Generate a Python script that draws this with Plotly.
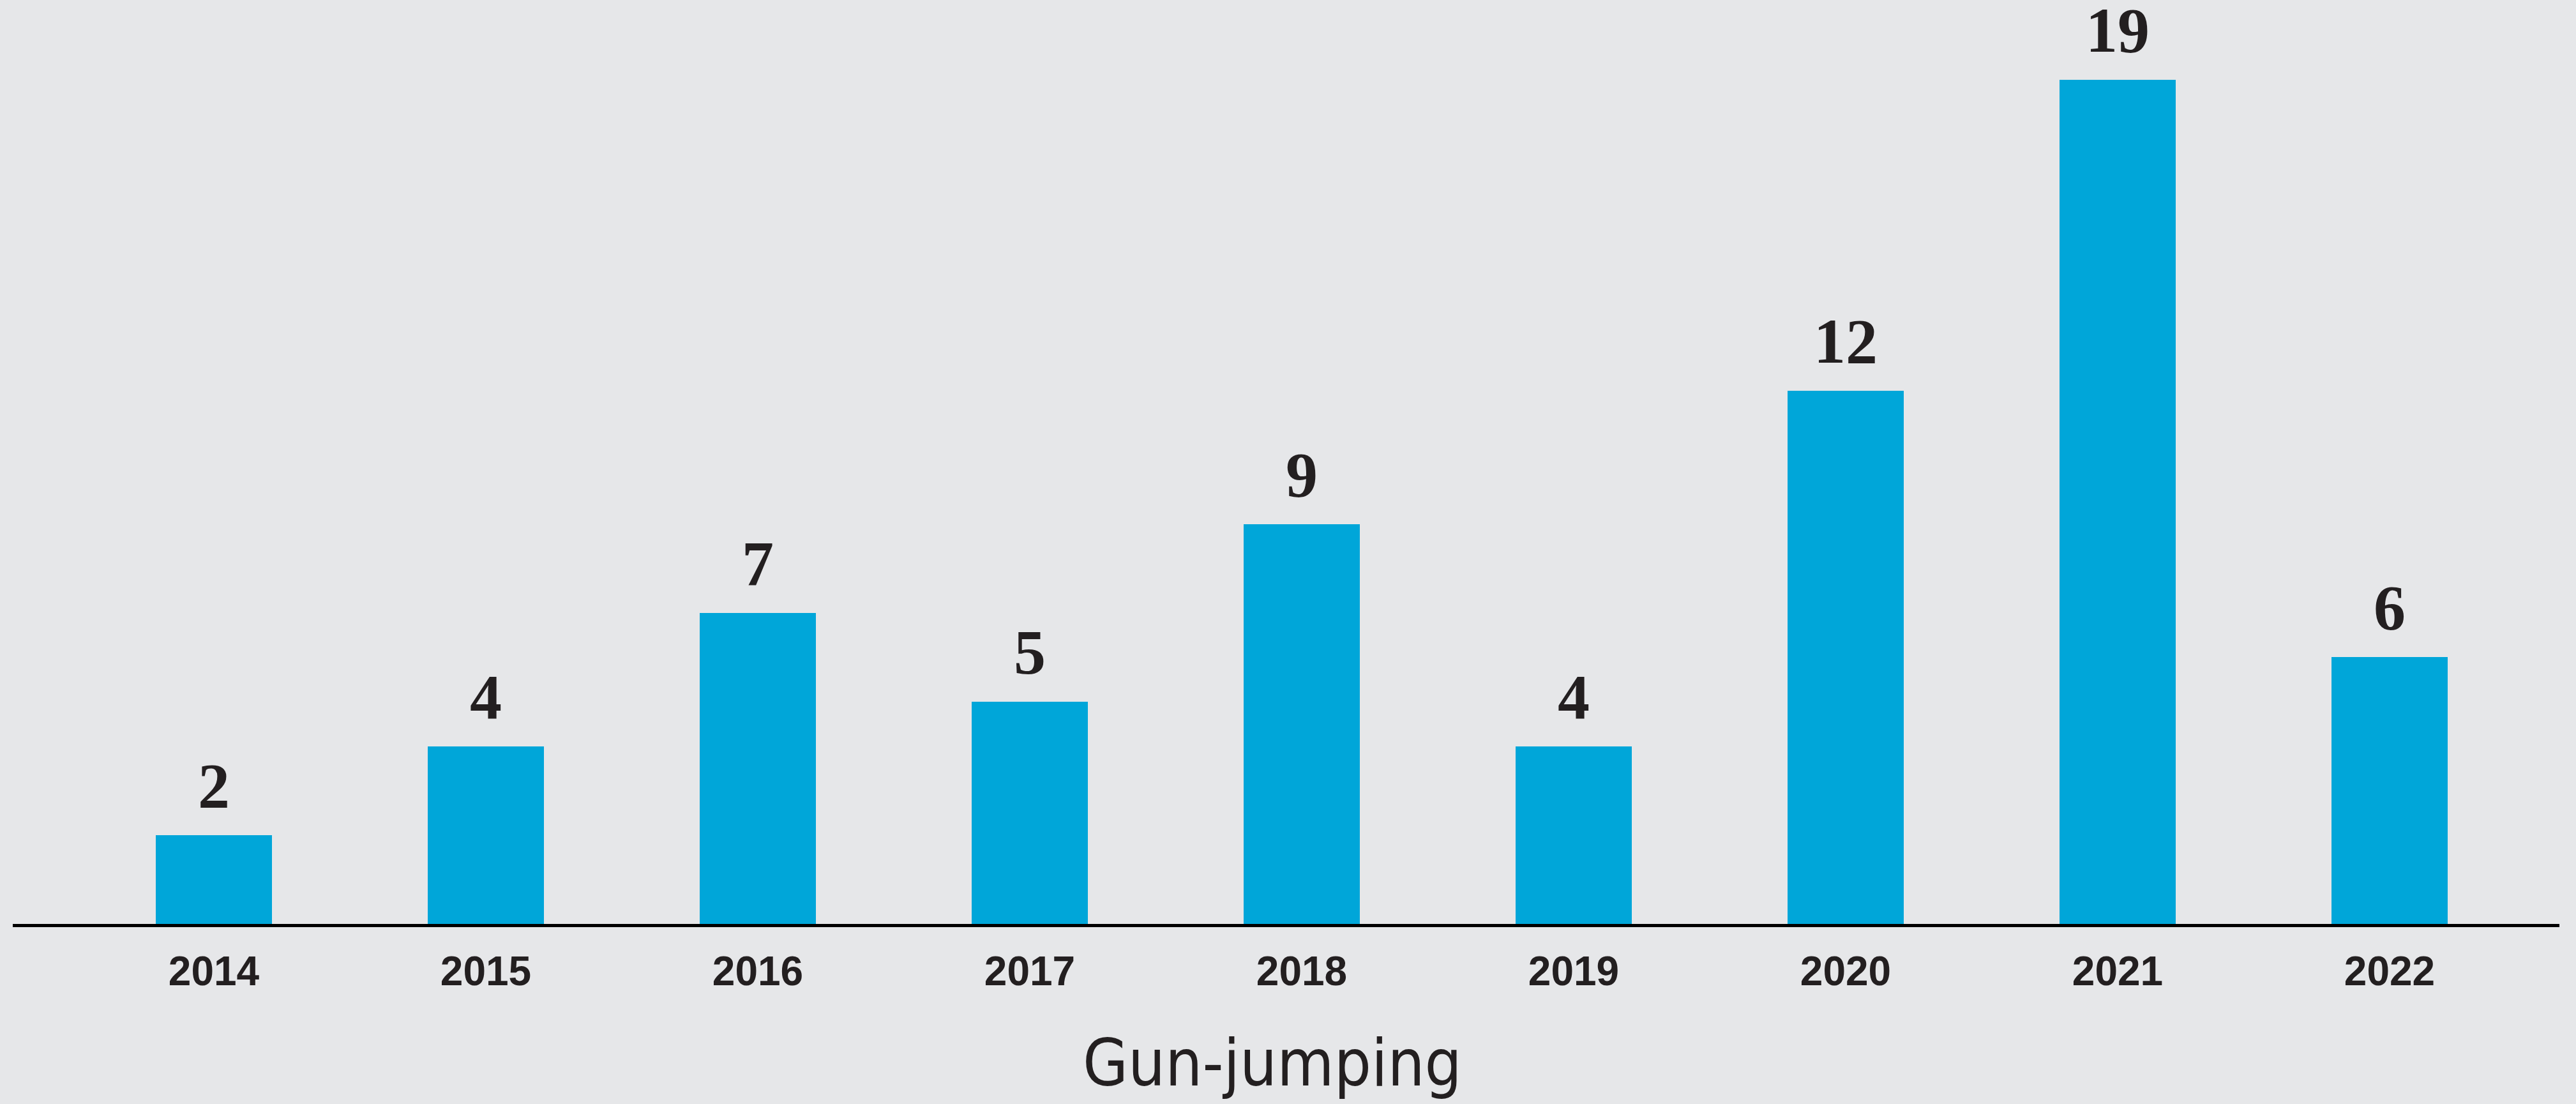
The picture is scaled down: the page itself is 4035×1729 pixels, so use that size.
import plotly.graph_objects as go

years = ["2014", "2015", "2016", "2017", "2018", "2019", "2020", "2021", "2022"]
cases = [2, 4, 7, 5, 9, 4, 12, 19, 6]
title_text = "Gun-jumping"

W, H = 4035, 1729
BG = "#e6e7e9"
BAR = "#00a6d9"
TXT = "#231f20"

# pixel geometry
left_px, right_px = 20, 4009
top_px, base_px = 20, 1447
c0, step = 335, 426
px_per_unit = 69.6

x0 = (left_px - c0) / step
x1 = (right_px - c0) / step
plot_h = base_px - top_px
ymax = plot_h / px_per_unit

fig = go.Figure()
fig.add_trace(go.Bar(
    x=list(range(len(years))), y=cases,
    marker=dict(color=BAR, line=dict(width=0)),
    width=182 / step,
    hoverinfo="skip",
))

for i, v in enumerate(cases):
    fig.add_annotation(
        x=i, y=v, xref="x", yref="y", text=f"<b>{v}</b>",
        showarrow=False, yanchor="bottom", yshift=20,
        font=dict(family="Liberation Serif", size=100, color=TXT),
    )

fig.add_annotation(
    x=1996 / W, xref="paper", y=(base_px - 1664) / plot_h, yref="paper",
    text=title_text, showarrow=False, xanchor="center", yanchor="middle",
    font=dict(family="Liberation Sans Narrow, DejaVu Sans Condensed, Roboto", size=102, color=TXT),
)

fig.update_layout(
    width=W, height=H,
    margin=dict(l=left_px, r=W - right_px, t=top_px, b=H - base_px, pad=0),
    paper_bgcolor=BG, plot_bgcolor=BG,
    showlegend=False,
    bargap=0,
    xaxis=dict(
        range=[x0, x1], tickmode="array",
        tickvals=list(range(len(years))),
        ticktext=[f"<b>{y}</b>" for y in years],
        tickfont=dict(family="Liberation Sans", size=64, color=TXT),
        showline=True, linecolor="#000000", linewidth=5,
        showgrid=False, zeroline=False, ticks="", ticklabelstandoff=14,
        fixedrange=True,
    ),
    yaxis=dict(
        range=[0, ymax], visible=False, showgrid=False, zeroline=False,
        fixedrange=True,
    ),
)

fig.write_html("out.html")
